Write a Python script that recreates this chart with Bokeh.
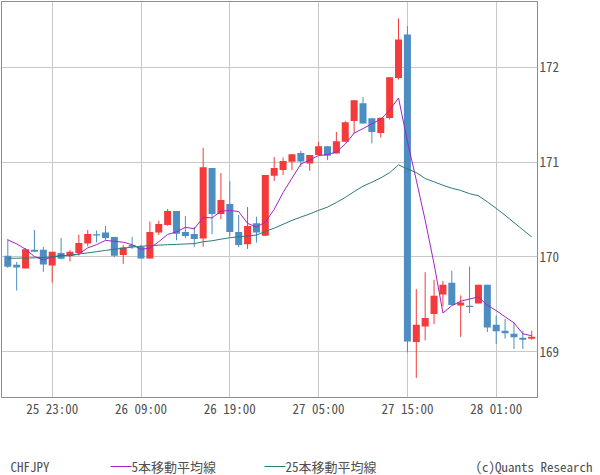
from bokeh.plotting import figure
from bokeh.layouts import column, row
from bokeh.models import ColumnDataSource, FixedTicker, Range1d
from bokeh.core.properties import value
from bokeh.embed import file_html
from bokeh.resources import INLINE

symbol = "CHFJPY"
ma5_label = "5本移動平均線"
ma25_label = "25本移動平均線"
credit = "(c)Quants Research"

opens = [170.011, 169.916, 169.877, 170.074, 170.074, 169.908, 170.042, 170.021, 170.042, 170.140,
         170.239, 170.258, 170.211, 170.021, 170.126, 170.108, 169.982, 170.256, 170.337, 170.484,
         170.263, 170.242, 170.193, 170.937, 170.453, 170.558, 170.263, 170.134, 170.355, 170.224,
         170.856, 170.916, 171.005, 171.095, 170.986, 171.074, 171.168, 171.092, 171.214, 171.435,
         171.621, 171.463, 171.308, 171.466, 171.887, 172.347, 169.102, 169.266, 169.397, 169.603,
         169.726, 169.487, 169.484, 169.508, 169.705, 169.284, 169.221, 169.189, 169.147, 169.137]

highs = [170.189, 169.947, 170.092, 170.284, 170.105, 170.053, 170.200, 170.071, 170.235, 170.284,
         170.279, 170.326, 170.211, 170.126, 170.211, 170.126, 170.372, 170.382, 170.505, 170.484,
         170.432, 170.316, 171.151, 170.937, 170.884, 170.800, 170.442, 170.526, 170.424, 170.863,
         171.053, 171.049, 171.084, 171.119, 171.074, 171.214, 171.168, 171.319, 171.435, 171.653,
         171.687, 171.463, 171.468, 171.895, 172.516, 172.435, 169.660, 169.839, 169.758, 169.747,
         169.853, 169.593, 169.898, 169.705, 169.705, 169.379, 169.344, 169.308, 169.221, 169.221]

lows = [169.884, 169.645, 169.877, 170.053, 169.842, 169.729, 169.972, 169.951, 170.014, 170.113,
        170.153, 170.179, 169.997, 169.926, 170.084, 169.982, 169.982, 170.232, 170.329, 170.176,
        170.197, 170.108, 170.108, 170.239, 170.397, 170.214, 170.102, 170.084, 170.151, 170.224,
        170.800, 170.863, 170.916, 170.951, 170.908, 171.074, 171.021, 171.092, 171.214, 171.302,
        171.407, 171.197, 171.260, 171.449, 171.871, 168.993, 168.723, 169.119, 169.292, 169.477,
        169.492, 169.155, 169.407, 169.508, 169.207, 169.081, 169.137, 169.028, 169.028, 169.126]

closes = [169.895, 169.887, 170.081, 170.053, 169.919, 170.053, 169.979, 170.053, 170.147, 170.242,
          170.226, 170.200, 170.011, 170.098, 170.108, 169.982, 170.263, 170.347, 170.484, 170.245,
          170.221, 170.189, 170.947, 170.453, 170.600, 170.263, 170.126, 170.326, 170.256, 170.863,
          170.937, 171.011, 171.084, 171.007, 171.074, 171.168, 171.066, 171.221, 171.421, 171.653,
          171.407, 171.319, 171.468, 171.895, 172.295, 169.108, 169.284, 169.355, 169.589, 169.705,
          169.492, 169.519, 169.471, 169.705, 169.256, 169.214, 169.193, 169.151, 169.126, 169.158]

ma5 = [170.179, 170.137, 170.081, 170.003, 169.967, 169.999, 170.017, 170.011, 170.030, 170.095,
       170.129, 170.174, 170.165, 170.155, 170.129, 170.080, 170.092, 170.160, 170.237, 170.264,
       170.312, 170.297, 170.417, 170.411, 170.482, 170.490, 170.478, 170.354, 170.314, 170.367,
       170.502, 170.679, 170.830, 170.980, 171.023, 171.069, 171.080, 171.107, 171.190, 171.306,
       171.354, 171.404, 171.454, 171.548, 171.677, 171.217, 170.810, 170.387, 169.926, 169.408,
       169.485, 169.532, 169.555, 169.578, 169.489, 169.433, 169.368, 169.304, 169.188, 169.168]

ma25 = [169.985, 169.986, 169.988, 169.990, 169.994, 169.999, 170.008, 170.018, 170.030, 170.042,
        170.055, 170.068, 170.080, 170.092, 170.103, 170.112, 170.118, 170.124, 170.128, 170.132,
        170.136, 170.140, 170.160, 170.170, 170.187, 170.202, 170.212, 170.222, 170.230, 170.268,
        170.303, 170.344, 170.385, 170.420, 170.453, 170.491, 170.525, 170.574, 170.627, 170.689,
        170.746, 170.788, 170.833, 170.889, 170.971, 170.927, 170.890, 170.827, 170.792, 170.756,
        170.725, 170.701, 170.667, 170.645, 170.581, 170.512, 170.439, 170.362, 170.286, 170.210]

x_tick_pos = [5, 15, 25, 35, 45, 55]
x_tick_labels = ["25 23:00", "26 09:00", "26 19:00", "27 05:00", "27 15:00", "28 01:00"]
y_ticks = [169, 170, 171, 172]

UP = "#f43a3a"
DOWN = "#4d8dc1"
PURPLE = "#a024c4"
TEAL = "#2b7b78"
FONT = "'Noto Sans Mono CJK JP', 'Noto Sans CJK JP', 'Liberation Mono', monospace"
TXT = "#505050"

n = len(opens)
idx = list(range(n))
src = ColumnDataSource(dict(
    x=idx, o=opens, h=highs, l=lows, c=closes,
    top=[max(o, c) for o, c in zip(opens, closes)],
    bottom=[min(o, c) for o, c in zip(opens, closes)],
    color=[UP if c >= o else DOWN for o, c in zip(opens, closes)],
    ma5=ma5, ma25=ma25,
))

p = figure(width=600, height=420, output_backend="svg", toolbar_location=None,
           x_range=Range1d(-0.71, 59.65), y_range=Range1d(168.516, 172.695),
           y_axis_location="right",
           min_border_left=1, min_border_right=63, min_border_top=1, min_border_bottom=22)
p.background_fill_color = "white"
p.border_fill_color = "white"
p.outline_line_color = "#8c8c8c"
p.outline_line_width = 1

p.segment(x0="x", y0="l", x1="x", y1="h", line_color="color", line_width=1, source=src)
p.vbar(x="x", width=0.79, top="top", bottom="bottom", fill_color="color", line_color=None, source=src)
p.line("x", "ma5", line_color=PURPLE, line_width=1, source=src)
p.line("x", "ma25", line_color=TEAL, line_width=1, source=src)

xt = FixedTicker(ticks=x_tick_pos)
yt = FixedTicker(ticks=y_ticks)
p.xaxis.ticker = xt
p.xgrid.ticker = xt
p.yaxis.ticker = yt
p.ygrid.ticker = yt
p.xaxis.major_label_overrides = {t: lab for t, lab in zip(x_tick_pos, x_tick_labels)}
p.yaxis.major_label_overrides = {t: str(t) for t in y_ticks}

for g in (p.xgrid, p.ygrid):
    g.grid_line_color = "#c8c8c8"
    g.grid_line_width = 1

for ax in (p.xaxis, p.yaxis):
    ax.axis_line_color = None
    ax.major_tick_line_color = None
    ax.minor_tick_line_color = None
    ax.major_tick_out = 0
    ax.major_tick_in = 0
    ax.major_label_text_font = FONT
    ax.major_label_text_font_size = "13px"
    ax.major_label_text_color = TXT
p.xaxis.major_label_standoff = 1
p.yaxis.major_label_standoff = 2

# legend strip: a separate figure whose data units equal pixels
leg = figure(width=600, height=55, output_backend="svg", toolbar_location=None,
             x_range=Range1d(0, 600), y_range=Range1d(0, 55),
             min_border=0, min_border_left=0, min_border_right=0, min_border_top=0, min_border_bottom=0)
leg.axis.visible = False
leg.grid.visible = False
leg.outline_line_color = None
leg.background_fill_color = "white"
leg.border_fill_color = "white"

LY = 9
leg_src = ColumnDataSource(dict(
    x=[10, 131, 285, 592],
    y=[LY, LY, LY, LY],
    text=[symbol, ma5_label, ma25_label, credit],
    align=["left", "left", "left", "right"],
))
leg.text(x="x", y="y", text="text", text_align="align", text_baseline="middle",
         text_font=value(FONT), text_font_size="13px", text_color=TXT, source=leg_src)
line_src = ColumnDataSource(dict(x0=[110, 264], x1=[131, 285], y=[LY, LY], color=[PURPLE, TEAL]))
leg.segment(x0="x0", y0="y", x1="x1", y1="y", line_color="color", line_width=1, source=line_src)

layout = column(p, row(leg, spacing=0), spacing=0)
open("out.html", "w").write(file_html(layout, INLINE))
